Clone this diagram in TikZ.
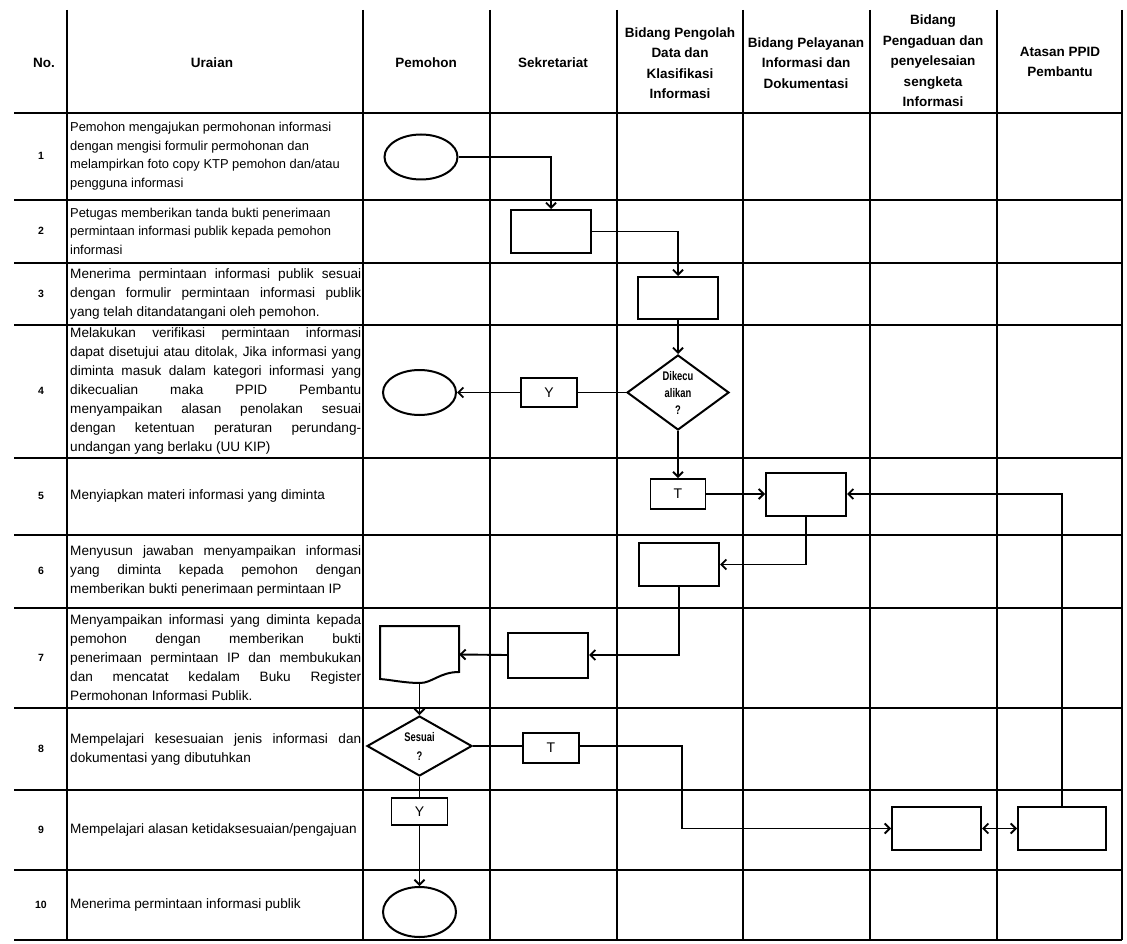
\documentclass[tikz,border=0pt]{standalone}
\usepackage{fontspec}
\setmainfont{Liberation Sans}
\newfontfamily\condfont{Liberation Sans}[FakeStretch=0.75]
\usetikzlibrary{arrows.meta,shapes.geometric}
\newcommand{\jl}[1]{\hbox to 291pt{#1}}
\tikzset{
  x=1pt, y=-1pt,
  gridline/.style={line width=1.7pt},
  hd/.style={align=center, inner sep=0pt, font=\bfseries\fontsize{13.5}{20.5}\selectfont},
  num/.style={inner sep=0pt, font=\bfseries\fontsize{10.5}{12}\selectfont},
  rowtxt/.style={anchor=west, align=left, inner sep=0pt, font=\fontsize{13.6}{19}\selectfont},
  rowtxtsm/.style={anchor=west, align=left, inner sep=0pt, font=\fontsize{12.9}{18.5}\selectfont},
  procbox/.style={draw, line width=2pt, inner sep=0pt, minimum width=80pt, minimum height=43pt},
  lblbox/.style={draw, line width=1.7pt, inner sep=0pt, minimum width=56pt, minimum height=29pt, font=\fontsize{14}{15}\selectfont},
  term/.style={draw, ellipse, line width=2pt, inner sep=0pt, minimum width=73pt, minimum height=45pt},
  dec/.style={draw, diamond, line width=2pt, inner sep=0pt, align=center, font=\condfont\bfseries\fontsize{12.5}{17}\selectfont},
  flow/.style={line width=1.9pt},
  arr/.style={flow, -{Straight Barb[length=5pt,width=10pt]}},
  darr/.style={flow, {Straight Barb[length=5pt,width=10pt]}-{Straight Barb[length=5pt,width=10pt]}},
}
\begin{document}
\begin{tikzpicture}
\useasboundingbox (0,0) rectangle (1127,944);
\fill[white] (0,0) rectangle (1127,944);

% table grid
\foreach \yy in {113,200,263,325,458,535,608,708,790,870,940}
  \draw[gridline] (14,\yy) -- (1122,\yy);
\foreach \xx in {67,363,490,617,743,870,997,1122}
  \draw[gridline] (\xx,10) -- (\xx,940);

% header
\node[hd] (hNo) at (44,63) {No.};
\node[hd] (hUr) at (212,63) {Uraian};
\node[hd] (hPm) at (426,63) {Pemohon};
\node[hd] (hSk) at (553,63) {Sekretariat};
\node[hd] (hPd) at (680,63) {Bidang Pengolah\\Data dan\\Klasifikasi\\Informasi};
\node[hd] (hPl) at (806,63) {Bidang Pelayanan\\Informasi dan\\Dokumentasi};
\node[hd] (hPg) at (933,61) {Bidang\\Pengaduan dan\\penyelesaian\\sengketa\\Informasi};
\node[hd] (hAt) at (1060,62) {Atasan PPID\\Pembantu};

% row numbers
\node[num] (n1) at (41,156) {1};
\node[num] (n2) at (41,231) {2};
\node[num] (n3) at (41,294) {3};
\node[num] (n4) at (41,391) {4};
\node[num] (n5) at (41,496) {5};
\node[num] (n6) at (41,571) {6};
\node[num] (n7) at (41,658) {7};
\node[num] (n8) at (41,749) {8};
\node[num] (n9) at (41,830) {9};
\node[num] (n10) at (41,905) {10};

% descriptions
\node[rowtxtsm] (t1) at (70,156) {Pemohon mengajukan permohonan informasi\\dengan mengisi formulir permohonan dan\\melampirkan foto copy KTP pemohon dan/atau\\pengguna informasi};
\node[rowtxtsm] (t2) at (70,231) {Petugas memberikan tanda bukti penerimaan\\permintaan informasi publik kepada pemohon\\informasi};
\node[rowtxt] (t3) at (70,294) {\jl{Menerima permintaan informasi publik sesuai}\\\jl{dengan formulir permintaan informasi publik}\\yang telah ditandatangani oleh pemohon.};
\node[rowtxt] (t4) at (70,391) {\jl{Melakukan verifikasi permintaan informasi}\\\jl{dapat disetujui atau ditolak, Jika informasi yang}\\\jl{diminta masuk dalam kategori informasi yang}\\\jl{dikecualian maka PPID Pembantu}\\\jl{menyampaikan alasan penolakan sesuai}\\\jl{dengan ketentuan peraturan perundang-}\\undangan yang berlaku (UU KIP)};
\node[rowtxt] (t5) at (70,496) {Menyiapkan materi informasi yang diminta};
\node[rowtxt] (t6) at (70,571) {\jl{Menyusun jawaban menyampaikan informasi}\\\jl{yang diminta kepada pemohon dengan}\\memberikan bukti penerimaan permintaan IP};
\node[rowtxt] (t7) at (70,658) {\jl{Menyampaikan informasi yang diminta kepada}\\\jl{pemohon dengan memberikan bukti}\\\jl{penerimaan permintaan IP dan membukukan}\\\jl{dan mencatat kedalam Buku Register}\\Permohonan Informasi Publik.};
\node[rowtxt] (t8) at (70,749) {\jl{Mempelajari kesesuaian jenis informasi dan}\\dokumentasi yang dibutuhkan};
\node[rowtxt] (t9) at (70,830) {Mempelajari alasan ketidaksesuaian/pengajuan};
\node[rowtxt] (t10) at (70,905) {Menerima permintaan informasi publik};

% flow shapes
\node[term] (E1) at (421,157) {};
\node[procbox] (B2) at (551,231.5) {};
\node[procbox, minimum height=42pt] (B3) at (678,298) {};
\node[dec, minimum width=102pt, minimum height=75pt] (D4) at (678,392.5) {Dikecu\\alikan\\?};
\node[lblbox] (Y4) at (549,392.5) {Y};
\node[term] (E4) at (419.5,392.5) {};
\node[lblbox, minimum width=55pt, minimum height=30pt] (T5) at (678,494) {T};
\node[procbox] (R5) at (806,494) {};
\node[procbox] (R6) at (679,564.5) {};
\node[procbox, minimum height=45pt] (R7) at (548,655) {};
\node[minimum width=79pt, minimum height=57pt, inner sep=0pt] (DOC) at (419.5,654.5) {};
\draw[line width=2pt] (380,626) -- (459,626) -- (459,672)
  .. controls (440,672) and (432,683) .. (420,683)
  .. controls (405,683) and (392,680) .. (380,679) -- cycle;
\node[dec, minimum width=105pt, minimum height=60pt, font=\condfont\bfseries\fontsize{12.5}{19}\selectfont] (S8) at (419.5,746) {Sesuai\\?};
\node[lblbox, minimum height=30pt] (T8) at (551,748) {T};
\node[lblbox, minimum height=27pt] (Y9) at (419.5,811.5) {Y};
\node[term, minimum height=50pt] (E10) at (419.5,912) {};
\node[procbox, minimum width=89pt] (R9) at (936.5,828.5) {};
\node[procbox, minimum width=88pt] (A9) at (1062,828.5) {};
\coordinate (k8) at (682,746);

% connectors
\draw[arr] (E1.east) -| (B2.north);
\draw[arr] (B2.east) -| (B3.north);
\draw[arr] (B3.south) -- (D4.north);
\draw[flow] (D4.west) -- (Y4.east);
\draw[arr] (Y4.west) -- (E4.east);
\draw[arr] (D4.south) -- (T5.north);
\draw[arr] (T5.east) -- (R5.west);
\draw[arr] (R5.south) |- (R6.east);
\draw[arr] (R6.south) |- (R7.east);
\draw[arr] (R7.west) -- (DOC.east);
\draw[arr] (DOC.south) -- (S8.north);
\draw[flow] (S8.east) -- (S8.east -| T8.west);
\draw[arr] (T8.east |- k8) -- (k8) |- (R9.west);
\draw[darr] (R9.east) -- (A9.west);
\draw[arr] (A9.north) |- (R5.east);
\draw[flow] (S8.south) -- (Y9.north);
\draw[arr] (Y9.south) -- (E10.north);
\end{tikzpicture}
\end{document}
